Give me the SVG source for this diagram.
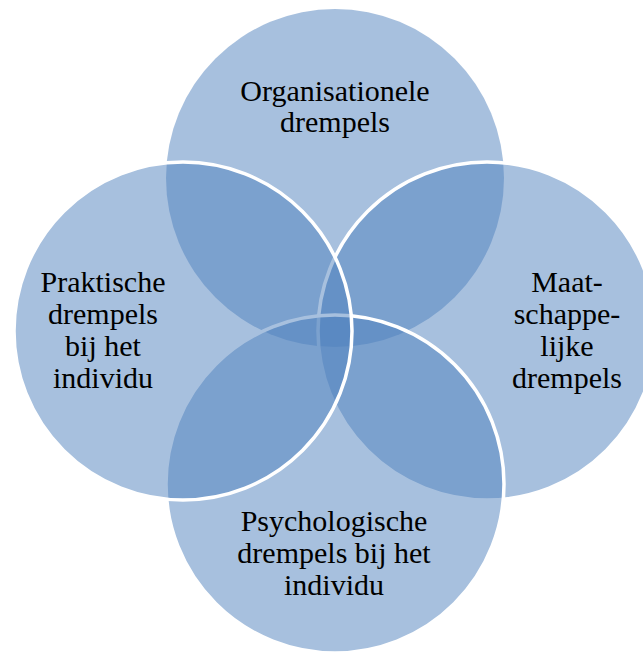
<svg xmlns="http://www.w3.org/2000/svg" width="643" height="653" viewBox="0 0 643 653">
<style>
.c{fill:#4F81BD;fill-opacity:0.5;stroke:#FFFFFF;stroke-width:3.5}
.c0{fill:#4F81BD;fill-opacity:0.5;stroke:none}
.t{font-family:"Liberation Serif","Times New Roman",serif;font-size:30px;fill:#000;text-anchor:middle}
</style>
<rect width="643" height="653" fill="#FFFFFF"/>
<g id="top">
<circle class="c0" cx="335" cy="178" r="169"/>
</g>
<g id="right">
<circle class="c" cx="487" cy="331" r="169"/>
</g>
<g id="bottom">
<circle class="c" cx="335" cy="484" r="169"/>
</g>
<g id="left">
<circle class="c" cx="183" cy="331" r="169"/>
</g>
<g id="labels">
<text class="t" x="335" y="101">Organisationele</text>
<text class="t" x="335" y="132">drempels</text>
<text class="t" x="103" y="292">Praktische</text>
<text class="t" x="103" y="324">drempels</text>
<text class="t" x="103" y="356">bij het</text>
<text class="t" x="103" y="388">individu</text>
<text class="t" x="567" y="292">Maat-</text>
<text class="t" x="567" y="324">schappe-</text>
<text class="t" x="567" y="356">lijke</text>
<text class="t" x="567" y="388">drempels</text>
<text class="t" x="334" y="531">Psychologische</text>
<text class="t" x="334" y="563">drempels bij het</text>
<text class="t" x="334" y="595">individu</text>
</g>
<g id="connectors"/>
</svg>
